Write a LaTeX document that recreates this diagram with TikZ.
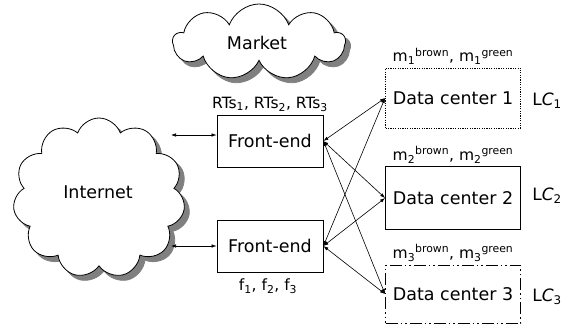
\documentclass[tikz,border=0pt]{standalone}
\usepackage{fontspec}
\setmainfont{DejaVu Sans}
\usetikzlibrary{shapes.symbols,arrows.meta}
\begin{document}
\begin{tikzpicture}[x=1bp,y=-1bp,
  cloudnode/.style={cloud, draw, fill=white, cloud puffs=10, cloud puff arc=140, cloud ignores aspect, line width=0.8bp},
  febox/.style={draw, line width=0.8bp, minimum width=106bp, minimum height=52bp, font=\fontsize{17.5bp}{19bp}\selectfont},
  dcbox/.style={draw, line width=0.9bp, minimum width=135bp, font=\fontsize{17.5bp}{19bp}\selectfont},
  lbl/.style={font=\fontsize{15.5bp}{17bp}\selectfont, inner sep=0pt},
  dbl/.style={{Latex[length=5bp,width=3.5bp]}-{Latex[length=5bp,width=3.5bp]}, line width=0.6bp}]
\useasboundingbox (0,0) rectangle (569,330);
\node[cloudnode, cloud puffs=9, minimum width=172bp, minimum height=76bp, draw=gray, fill=gray] (marketsh) at (264,47) {};
\node[cloudnode, cloud puffs=9, minimum width=172bp, minimum height=76bp] (market) at (259,42) {};
\node[font=\fontsize{17.5bp}{19bp}\selectfont] (marketlbl) at (257,43) {Market};
\node[cloudnode, cloud puffs=11, minimum width=172bp, minimum height=160bp, draw=gray, fill=gray] (inetsh) at (104,203) {};
\node[cloudnode, cloud puffs=11, minimum width=172bp, minimum height=160bp] (inet) at (99,198) {};
\node[font=\fontsize{17.5bp}{19bp}\selectfont] (inetlbl) at (98,192) {Internet};
\node[febox] (fe1) at (270,141) {Front-end};
\node[febox] (fe2) at (270,246) {Front-end};
\node[lbl] (rts) at (270,104) {RTs\textsubscript{1}, RTs\textsubscript{2}, RTs\textsubscript{3}};
\node[lbl] (fs) at (268,286) {f\textsubscript{1}, f\textsubscript{2}, f\textsubscript{3}};
\node[dcbox, minimum height=60bp, dash pattern=on 1.2bp off 1.2bp] (dc1) at (453,98) {Data center 1};
\node[dcbox, minimum height=63bp] (dc2) at (453,198) {Data center 2};
\node[dcbox, minimum height=58bp, dash pattern=on 12bp off 3bp on 1.5bp off 3bp on 1.5bp off 3bp] (dc3) at (453,294) {Data center 3};
\node[lbl] (m1) at (453,56) {m\textsubscript{1}\textsuperscript{brown}, m\textsubscript{1}\textsuperscript{green}};
\node[lbl] (m2) at (453,155) {m\textsubscript{2}\textsuperscript{brown}, m\textsubscript{2}\textsuperscript{green}};
\node[lbl] (m3) at (453,253) {m\textsubscript{3}\textsuperscript{brown}, m\textsubscript{3}\textsuperscript{green}};
\node[lbl, font=\fontsize{17bp}{19bp}\selectfont] (lc1) at (547,101) {L\textit{C}\textsubscript{1}};
\node[lbl, font=\fontsize{17bp}{19bp}\selectfont] (lc2) at (547,196) {L\textit{C}\textsubscript{2}};
\node[lbl, font=\fontsize{17bp}{19bp}\selectfont] (lc3) at (547,297) {L\textit{C}\textsubscript{3}};
\coordinate (a1) at (171,135);
\coordinate (a2) at (171,246);
\draw[dbl] (a1) -- (fe1.west |- a1);
\draw[dbl] (a2) -- (fe2.west |- a2);
\foreach \f in {fe1,fe2}{
  \foreach \d in {dc1,dc2,dc3}{
    \draw[dbl] (\f.east) -- (\d.west);
  }
}
\end{tikzpicture}
\end{document}
